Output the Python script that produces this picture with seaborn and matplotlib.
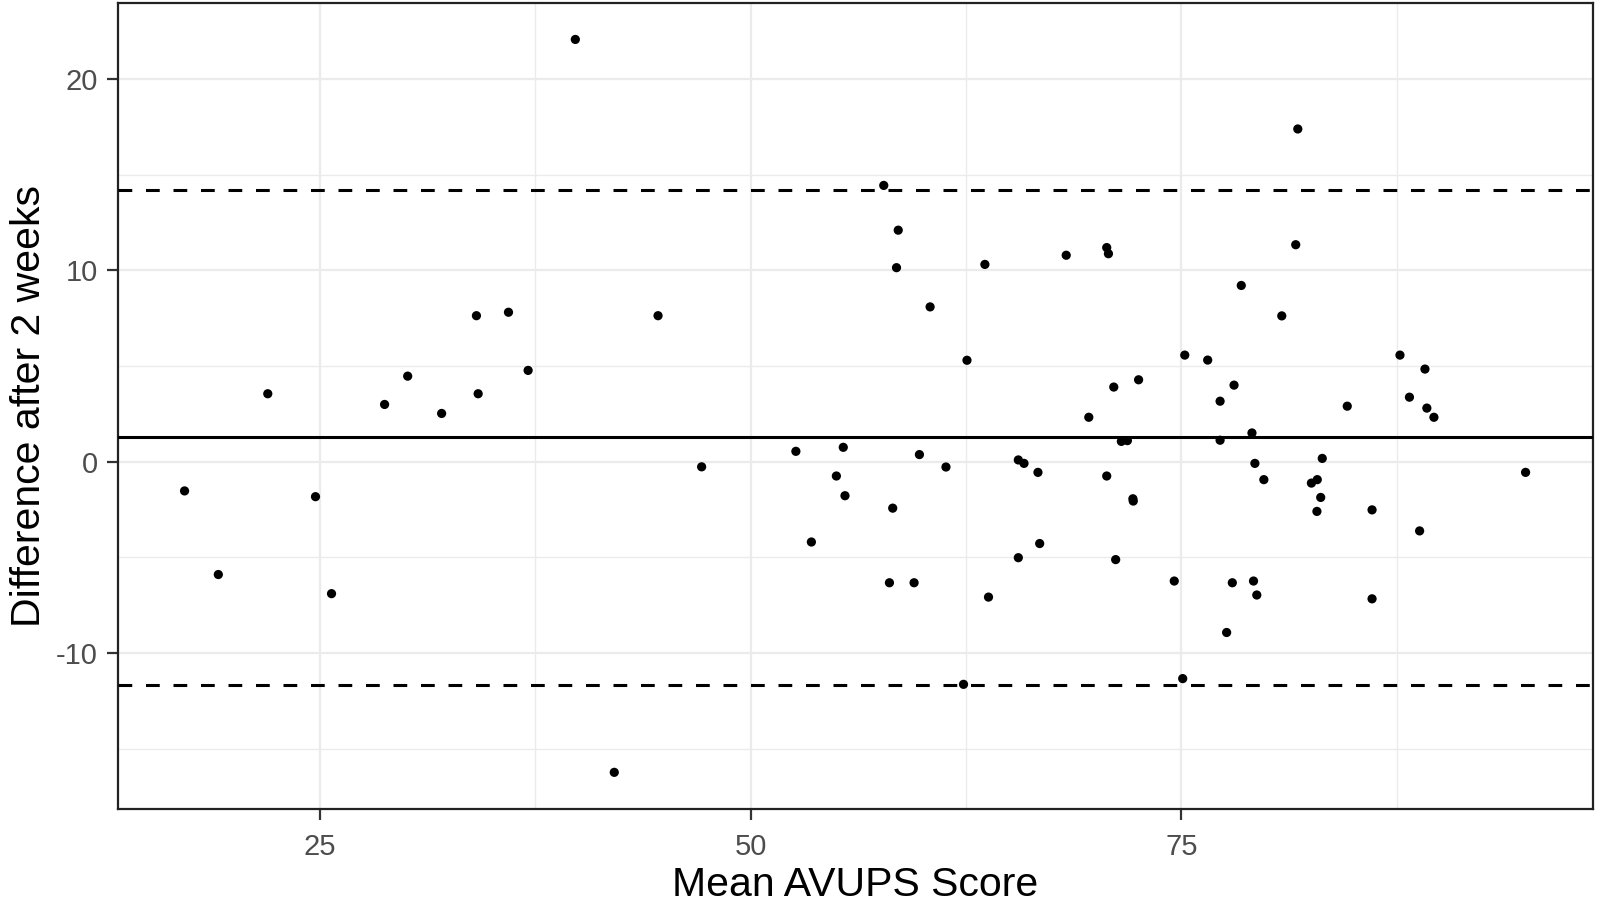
import matplotlib
matplotlib.use("Agg")
import matplotlib.pyplot as plt
from matplotlib.ticker import MultipleLocator
import pandas as pd
import seaborn as sns

# Bland-Altman values
mean_score = [17.15, 19.11, 21.98, 24.75, 25.68, 28.76, 30.10, 32.07, 34.09, 34.19,
              35.95, 37.09, 39.83, 42.09, 44.63, 47.16, 52.63, 53.53, 54.98, 55.38,
              55.48, 57.73, 58.06, 58.25, 58.47, 58.57, 59.49, 59.80, 60.42, 61.34,
              62.36, 62.56, 63.60, 63.81, 65.54, 65.54, 65.87, 66.68, 66.78, 68.32,
              69.63, 70.67, 70.67, 70.77, 71.08, 71.19, 71.52, 71.87, 72.19, 72.21,
              72.52, 74.59, 75.08, 75.20, 76.53, 77.25, 77.25, 77.63, 77.96, 78.06,
              78.48, 79.10, 79.19, 79.27, 79.38, 79.79, 80.83, 81.64, 81.76, 82.55,
              82.89, 82.87, 83.09, 83.18, 84.63, 86.07, 86.07, 87.69, 88.24, 88.83,
              89.14, 89.25, 89.66, 94.98]
difference = [-1.53, -5.90, 3.55, -1.83, -6.90, 2.99, 4.47, 2.52, 7.63, 3.55,
              7.81, 4.77, 22.07, -16.24, 7.63, -0.27, 0.54, -4.20, -0.75, 0.75,
              -1.78, 14.44, -6.33, -2.43, 10.14, 12.10, -6.33, 0.37, 8.09, -0.28,
              -11.64, 5.30, 10.31, -7.08, 0.09, -5.02, -0.09, -0.56, -4.28, 10.79,
              2.32, 11.19, -0.75, 10.87, 3.90, -5.12, 1.06, 1.10, -1.94, -2.06,
              4.28, -6.24, -11.34, 5.57, 5.31, 3.16, 1.12, -8.93, -6.33, 4.00,
              9.21, 1.50, -6.24, -0.09, -6.97, -0.94, 7.62, 11.34, 17.39, -1.12,
              -0.94, -2.60, -1.87, 0.17, 2.90, -2.52, -7.17, 5.57, 3.37, -3.62,
              4.84, 2.80, 2.32, -0.56]
bias = 1.27
loa_upper = 14.19
loa_lower = -11.66

df = pd.DataFrame({"mean": mean_score, "diff": difference})

sns.set_theme(style="white")
plt.rcParams["font.family"] = ["Liberation Sans", "DejaVu Sans"]
plt.rcParams["axes.unicode_minus"] = False

fig = plt.figure(figsize=(15.99, 9.05), dpi=100)
ax = fig.add_axes([0.0735, 0.106, 0.9225, 0.891])

sns.scatterplot(data=df, x="mean", y="diff", ax=ax, color="black",
                s=44, edgecolor="none", zorder=4)

ax.axhline(bias, color="black", lw=2.2, zorder=3)
ax.axhline(loa_upper, color="black", lw=2.2, ls=(0, (4.5, 4.5)), zorder=3)
ax.axhline(loa_lower, color="black", lw=2.2, ls=(0, (4.5, 4.5)), zorder=3)

ax.set_xlim(13.26, 98.87)
ax.set_ylim(-18.16, 23.99)
ax.xaxis.set_major_locator(MultipleLocator(25))
ax.xaxis.set_minor_locator(MultipleLocator(12.5))
ax.yaxis.set_major_locator(MultipleLocator(10))
ax.yaxis.set_minor_locator(MultipleLocator(5))

ax.set_axisbelow(True)
ax.grid(which="major", color="#EBEBEB", lw=1.6)
ax.grid(which="minor", color="#EBEBEB", lw=1.0)

for sp in ax.spines.values():
    sp.set_color("#222222")
    sp.set_linewidth(1.6)

ax.tick_params(which="major", length=8, width=1.6, color="#333333",
               labelsize=21, labelcolor="#4D4D4D", pad=6, bottom=True, left=True)
ax.tick_params(axis="x", which="major", pad=9)
ax.tick_params(which="minor", length=0)

ax.set_xlabel("Mean AVUPS Score", fontsize=29.5, labelpad=4, color="black")
ax.set_ylabel("Difference after 2 weeks", fontsize=29.5, labelpad=6, color="black")

fig.savefig("out.png", dpi=100)
